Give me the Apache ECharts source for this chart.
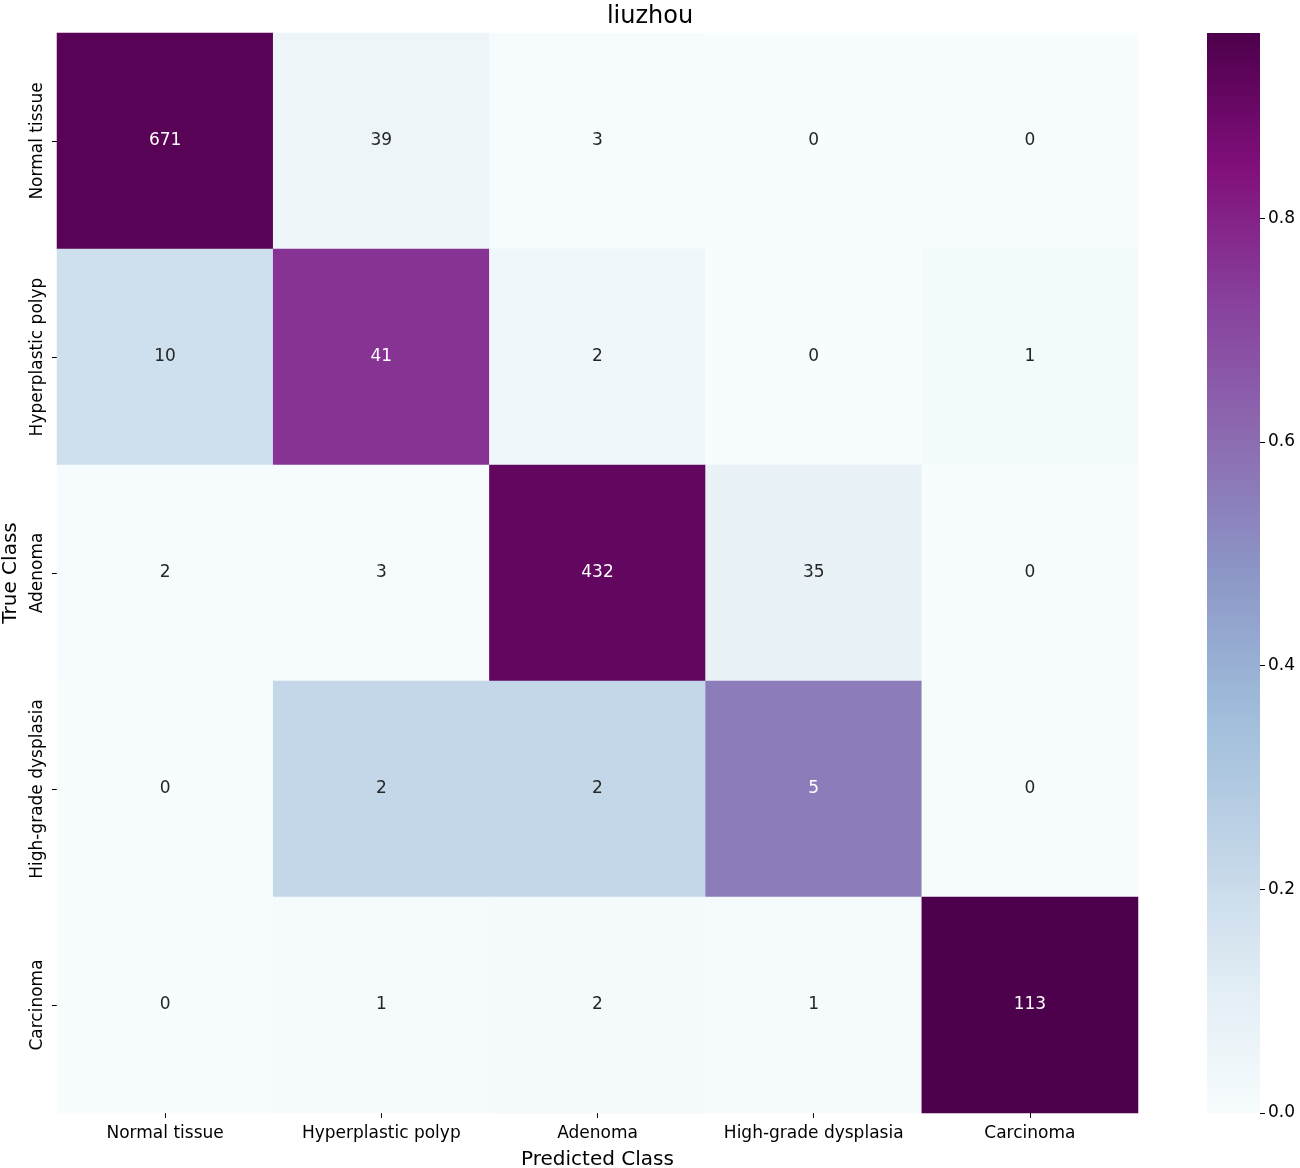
<!DOCTYPE html>
<html><head><meta charset="utf-8">
<script src="https://cdn.jsdelivr.net/npm/echarts@6/dist/echarts.min.js"></script>
<style>html,body{margin:0;padding:0;background:#fff}#c{width:1300px;height:1168px}</style>
</head><body><div id="c"></div>
<script>
const classes = ['Normal tissue','Hyperplastic polyp','Adenoma','High-grade dysplasia','Carcinoma'];
const row0 = [671,39,3,0,0];
const row1 = [10,41,2,0,1];
const row2 = [2,3,432,35,0];
const row3 = [0,2,2,5,0];
const row4 = [0,1,2,1,113];
const counts = [row0,row1,row2,row3,row4];
const cbTicks = [0,0.2,0.4,0.6,0.8];
const BuPu = ['#f7fcfd','#e0ecf4','#bfd3e6','#9ebcda','#8c96c6','#8c6bb1','#88419d','#810f7c','#4d004b'];

const data = [];
let maxVal = 0;
counts.forEach((row, r) => {
  const s = row.reduce((a,b)=>a+b,0);
  row.forEach((v, c) => {
    const n = v / s;
    if (n > maxVal) maxVal = n;
    data.push({value:[c, r, n, v], label:{color: n > 0.5 ? '#ffffff' : '#262626'}});
  });
});
const minVal = 0;
const font = 'DejaVu Sans';
const chart = echarts.init(document.getElementById('c'), null, {renderer:'canvas'});
chart.setOption({
  animation:false,
  backgroundColor:'#fff',
  textStyle:{fontFamily:font},
  title:{text:'liuzhou', left:'center', top:0, textStyle:{fontFamily:font, fontSize:24, fontWeight:'normal', color:'#000'}},
  grid:[
    {left:57, right:162, top:33, bottom:55, containLabel:false, outerBoundsMode:'none'},
    {left:1207, width:53, top:33, height:1080, containLabel:false, outerBoundsMode:'none'}
  ],
  xAxis:[
    {type:'category', data:classes, gridIndex:0, position:'bottom',
      axisLine:{show:false}, axisTick:{show:true, alignWithLabel:true, length:5, lineStyle:{color:'#000'}},
      axisLabel:{fontSize:17, color:'#000', margin:12, interval:0, fontFamily:font},
      splitLine:{show:false},
      name:'Predicted Class', nameLocation:'middle', nameGap:37, nameTextStyle:{fontSize:20, color:'#000', fontFamily:font}},
    {type:'category', data:['cb'], gridIndex:1, show:false}
  ],
  yAxis:[
    {type:'category', data:classes, gridIndex:0, inverse:true,
      axisLine:{show:false}, axisTick:{show:true, alignWithLabel:true, length:5, lineStyle:{color:'#000'}},
      axisLabel:{fontSize:17, color:'#000', rotate:90, margin:11, interval:0, fontFamily:font},
      name:'True Class', nameLocation:'middle', nameGap:36, nameRotate:90, nameTextStyle:{fontSize:20, color:'#000', fontFamily:font}},
    {type:'value', gridIndex:1, position:'right', min:minVal, max:maxVal, interval:0.2,
      axisLine:{show:false}, splitLine:{show:false},
      axisTick:{show:true, length:5, lineStyle:{color:'#000'}},
      axisLabel:{fontSize:17, color:'#000', margin:8, showMaxLabel:false, formatter:v=>v.toFixed(1), fontFamily:font}}
  ],
  visualMap:{show:false, min:minVal, max:maxVal, dimension:2, seriesIndex:0, inRange:{color:BuPu}},
  series:[
    {type:'heatmap', xAxisIndex:0, yAxisIndex:0, data:data,
      label:{show:true, fontSize:17, fontFamily:font, formatter:p=>String(p.value[3])},
      itemStyle:{borderWidth:0}},
    {type:'bar', xAxisIndex:1, yAxisIndex:1, data:[maxVal], barWidth:'100%',
      itemStyle:{color:new echarts.graphic.LinearGradient(0,1,0,0, BuPu.map((c,i)=>({offset:i/(BuPu.length-1), color:c})))}}
  ]
});
</script></body></html>
